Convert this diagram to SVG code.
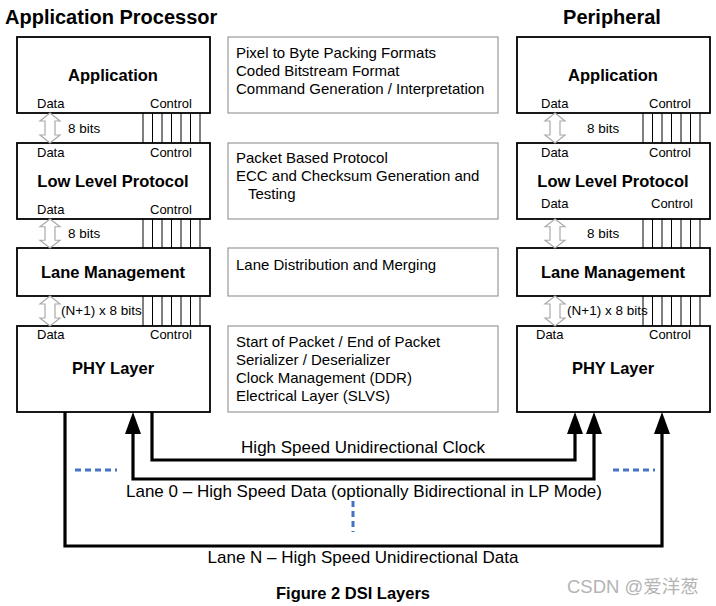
<svg xmlns="http://www.w3.org/2000/svg" width="716" height="606" viewBox="0 0 716 606">
<style>
  text { font-family: "Liberation Sans", Arial, sans-serif; fill: #000; }
  .title { font-size: 20px; font-weight: bold; }
  .box { fill: #fff; stroke: #000; stroke-width: 1.8; }
  .mbox { fill: #fff; stroke: #999; stroke-width: 1.2; }
  .name { font-size: 16.5px; font-weight: bold; text-anchor: middle; }
  .lbl { font-size: 13px; }
  .desc { font-size: 15px; }
  .bits { font-size: 13.5px; }
  .wire { fill: none; stroke: #000; stroke-width: 3.2; stroke-linejoin: miter; }
  .blue { fill: none; stroke: #4472C4; stroke-width: 3; stroke-dasharray: 6 4; }
  .dbl { fill: #fff; stroke: #aaa; stroke-width: 1.2; }
  .ctl { stroke: #000; stroke-width: 1; }
  .bus { font-size: 17px; }
</style>
<defs>
  <path id="dblarrow" class="dbl" d="M0,0 L10,8 L5,8 L5,22 L10,22 L0,30 L-10,22 L-5,22 L-5,8 L-10,8 Z"/>
  <path id="ctlbus" class="ctl" d="M0,0 V30 M9.5,0 V30 M19,0 V30 M28.5,0 V30 M38,0 V30 M47.5,0 V30 M57,0 V30"/>
  <marker id="ah" markerUnits="userSpaceOnUse" markerWidth="24" markerHeight="18" viewBox="0 0 24 18" refX="0" refY="9" orient="auto-start-reverse">
    <path d="M0,1 L22,9 L0,17 Z" fill="#000"/>
  </marker>
</defs>

<text class="title" x="5" y="24">Application Processor</text>
<text class="title" x="612" y="24" text-anchor="middle">Peripheral</text>

<!-- left stack -->
<g id="ap-application">
  <rect class="box" x="17" y="37" width="193" height="76"/>
  <text class="name" x="113" y="81">Application</text>
  <text class="lbl" x="37" y="108">Data</text>
  <text class="lbl" x="150" y="108">Control</text>
</g>
<g id="ap-llp">
  <rect class="box" x="17" y="143" width="193" height="76"/>
  <text class="lbl" x="37" y="157">Data</text>
  <text class="lbl" x="150" y="157">Control</text>
  <text class="name" x="113" y="187">Low Level Protocol</text>
  <text class="lbl" x="37" y="214">Data</text>
  <text class="lbl" x="150" y="214">Control</text>
</g>
<g id="ap-lane">
  <rect class="box" x="17" y="248" width="193" height="48"/>
  <text class="name" x="113" y="278">Lane Management</text>
</g>
<g id="ap-phy">
  <rect class="box" x="17" y="326" width="193" height="86"/>
  <text class="lbl" x="37" y="339">Data</text>
  <text class="lbl" x="150" y="339">Control</text>
  <text class="name" x="113" y="374">PHY Layer</text>
</g>

<!-- right stack -->
<g id="p-application">
  <rect class="box" x="517" y="37" width="193" height="76"/>
  <text class="name" x="613" y="81">Application</text>
  <text class="lbl" x="541" y="108">Data</text>
  <text class="lbl" x="649" y="108">Control</text>
</g>
<g id="p-llp">
  <rect class="box" x="517" y="143" width="193" height="76"/>
  <text class="lbl" x="541" y="157">Data</text>
  <text class="lbl" x="649" y="157">Control</text>
  <text class="name" x="613" y="187">Low Level Protocol</text>
  <text class="lbl" x="541" y="208">Data</text>
  <text class="lbl" x="651" y="208">Control</text>
</g>
<g id="p-lane">
  <rect class="box" x="517" y="248" width="193" height="48"/>
  <text class="name" x="613" y="278">Lane Management</text>
</g>
<g id="p-phy">
  <rect class="box" x="517" y="326" width="193" height="86"/>
  <text class="lbl" x="536" y="339">Data</text>
  <text class="lbl" x="649" y="339">Control</text>
  <text class="name" x="613" y="374">PHY Layer</text>
</g>

<!-- middle description boxes -->
<g id="desc-application">
  <rect class="mbox" x="228" y="37" width="270" height="76"/>
  <text class="desc" x="236" y="58">Pixel to Byte Packing Formats</text>
  <text class="desc" x="236" y="76">Coded Bitstream Format</text>
  <text class="desc" x="236" y="94">Command Generation / Interpretation</text>
</g>
<g id="desc-llp">
  <rect class="mbox" x="228" y="143" width="270" height="76"/>
  <text class="desc" x="236" y="163">Packet Based Protocol</text>
  <text class="desc" x="236" y="181">ECC and Checksum Generation and</text>
  <text class="desc" x="248" y="199">Testing</text>
</g>
<g id="desc-lane">
  <rect class="mbox" x="228" y="248" width="270" height="48"/>
  <text class="desc" x="236" y="270">Lane Distribution and Merging</text>
</g>
<g id="desc-phy">
  <rect class="mbox" x="228" y="326" width="270" height="86"/>
  <text class="desc" x="236" y="347">Start of Packet / End of Packet</text>
  <text class="desc" x="236" y="365">Serializer / Deserializer</text>
  <text class="desc" x="236" y="383">Clock Management (DDR)</text>
  <text class="desc" x="236" y="401">Electrical Layer (SLVS)</text>
</g>

<!-- connectors -->
<g id="connectors">
  <use href="#dblarrow" transform="translate(50,113)"/>
  <use href="#dblarrow" transform="translate(50,219) scale(1,0.967)"/>
  <use href="#dblarrow" transform="translate(50,296)"/>
  <use href="#ctlbus" transform="translate(143,113)"/>
  <use href="#ctlbus" transform="translate(143,219) scale(1,0.967)"/>
  <use href="#ctlbus" transform="translate(143,296)"/>
  <text class="bits" x="68" y="133">8 bits</text>
  <text class="bits" x="68" y="238">8 bits</text>
  <text class="bits" x="61" y="315">(N+1) x 8 bits</text>

  <use href="#dblarrow" transform="translate(555,113)"/>
  <use href="#dblarrow" transform="translate(555,219) scale(1,0.967)"/>
  <use href="#dblarrow" transform="translate(555,296)"/>
  <use href="#ctlbus" transform="translate(643,113)"/>
  <use href="#ctlbus" transform="translate(643,219) scale(1,0.967)"/>
  <use href="#ctlbus" transform="translate(643,296)"/>
  <text class="bits" x="587" y="133">8 bits</text>
  <text class="bits" x="587" y="238">8 bits</text>
  <text class="bits" x="567" y="315">(N+1) x 8 bits</text>

  <path class="wire" d="M152,412 V460 H575 V434" marker-end="url(#ah)"/>
  <path class="wire" d="M133,434 V479 H594 V434" marker-start="url(#ah)" marker-end="url(#ah)"/>
  <path class="wire" d="M65,412 V546 H662 V434" marker-end="url(#ah)"/>

  <text class="bus" x="363" y="453" text-anchor="middle">High Speed Unidirectional Clock</text>
  <text class="bus" x="126" y="497">Lane 0 – High Speed Data (optionally Bidirectional in LP Mode)</text>
  <text class="bus" x="363" y="563" text-anchor="middle">Lane N – High Speed Unidirectional Data</text>

  <line class="blue" x1="75" y1="470" x2="117" y2="470"/>
  <line class="blue" x1="613" y1="470" x2="655" y2="470"/>
  <line class="blue" x1="353" y1="501" x2="353" y2="532"/>
</g>

<text x="353" y="599" text-anchor="middle" style="font-size:16.5px;font-weight:bold">Figure 2 DSI Layers</text>
<text x="567" y="593" style="font-family:'Liberation Sans','Noto Sans CJK SC',sans-serif;font-size:18.5px;fill:#b4b4b4">CSDN @爱洋葱</text>
</svg>
